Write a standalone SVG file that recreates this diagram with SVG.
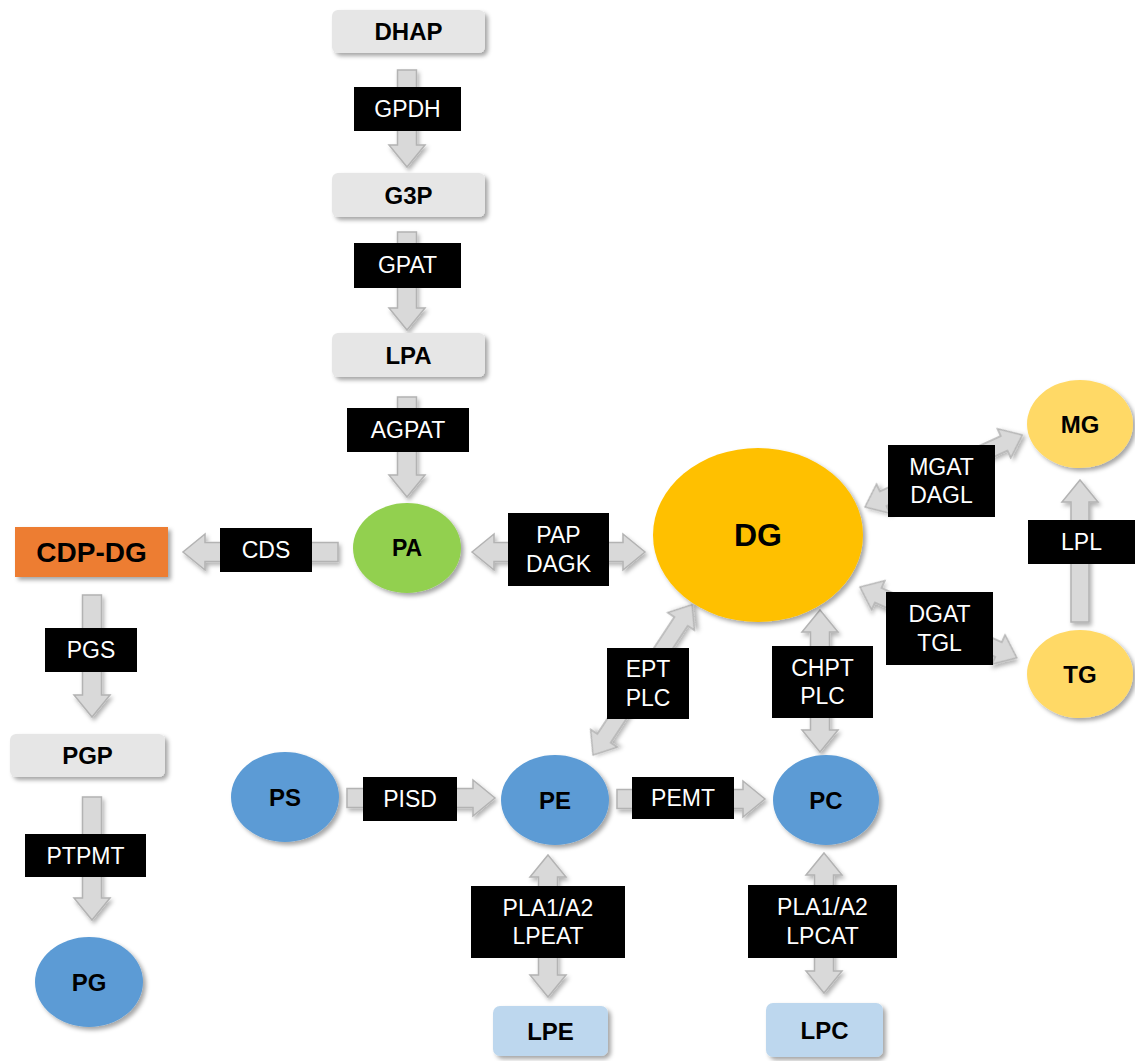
<svg xmlns="http://www.w3.org/2000/svg" width="1135" height="1061" viewBox="0 0 1135 1061">
<defs>
<filter id="sh" x="-20%" y="-20%" width="150%" height="150%">
<feDropShadow dx="3" dy="3" stdDeviation="2" flood-color="#000" flood-opacity="0.35"/>
</filter>
<filter id="ash" x="-20%" y="-20%" width="150%" height="150%">
<feDropShadow dx="2" dy="3" stdDeviation="2" flood-color="#000" flood-opacity="0.3"/>
</filter>
<style>
.nt{font-family:"Liberation Sans",Arial,sans-serif;font-weight:bold;font-size:24px;fill:#000;text-anchor:middle}
.lt{font-family:"Liberation Sans",Arial,sans-serif;font-size:23px;fill:#fff;text-anchor:middle}
.lb{fill:#000}
.ar{fill:#d9d9d9;stroke:#b3b3b3;stroke-width:1.5;filter:url(#ash)}
.gr{fill:#e6e6e6;filter:url(#sh)}
.lbl{fill:#bdd7ee;filter:url(#sh)}
.bl{fill:#5b9bd5;filter:url(#sh)}
.ye{fill:#ffd966;filter:url(#sh)}
</style>
</defs>
<rect width="1135" height="1061" fill="#fff"/>

<g id="connectors">
<polygon class="ar" points="397.5,70 416.5,70 416.5,145 425,145 407,167 389,145 397.5,145"/>
<polygon class="ar" points="397.5,232 416.5,232 416.5,308 425,308 407,330 389,308 397.5,308"/>
<polygon class="ar" points="397.5,397 416.5,397 416.5,475 425,475 407,497 389,475 397.5,475"/>
<polygon class="ar" points="338,542.5 338,561.5 205,561.5 205,570 183,552 205,534 205,542.5"/>
<polygon class="ar" points="472,552 494,534 494,542.5 623,542.5 623,534 645,552 623,570 623,561.5 494,561.5 494,570"/>
<polygon class="ar" points="82.5,595 101.5,595 101.5,695 110,695 92,717 74,695 82.5,695"/>
<polygon class="ar" points="82.5,797 101.5,797 101.5,898 110,898 92,920 74,898 82.5,898"/>
<polygon class="ar" points="347,788.5 473,788.5 473,780 495,798 473,816 473,807.5 347,807.5"/>
<polygon class="ar" points="617,789.5 743,789.5 743,781 765,799 743,817 743,808.5 617,808.5"/>
<polygon class="ar" points="1071,622 1071,502 1062,502 1080,480 1098,502 1089,502 1089,622"/>
<polygon class="ar" points="820,610 838,632 829.5,632 829.5,730 838,730 820,752 802,730 810.5,730 810.5,632 802,632"/>
<polygon class="ar" points="548,855 566,877 557.5,877 557.5,975 566,975 548,997 530,975 538.5,975 538.5,877 530,877"/>
<polygon class="ar" points="824,853 842,875 833.5,875 833.5,971 842,971 824,993 806,971 814.5,971 814.5,875 806,875"/>
<path class="ar" transform="translate(593,755) rotate(-56.6)" d="M0,0 L20,-16 L20,-8 L160,-8 L160,-16 L180,0 L160,16 L160,8 L20,8 L20,16 Z"/>
<path class="ar" transform="translate(865,507) rotate(-24.6)" d="M0,0 L20,-16 L20,-8 L153,-8 L153,-16 L173,0 L153,16 L153,8 L20,8 L20,16 Z"/>
<path class="ar" transform="translate(860,587) rotate(24.3)" d="M0,0 L20,-16 L20,-8 L152,-8 L152,-16 L172,0 L152,16 L152,8 L20,8 L20,16 Z"/>

<g id="labels">
<rect class="lb" x="354" y="87" width="107" height="44"/><text class="lt" x="407.5" y="117">GPDH</text>
<rect class="lb" x="354" y="243" width="107" height="45"/><text class="lt" x="407.5" y="273">GPAT</text>
<rect class="lb" x="347" y="408" width="122" height="44"/><text class="lt" x="408" y="438">AGPAT</text>
<rect class="lb" x="220" y="528" width="92" height="44"/><text class="lt" x="266" y="558">CDS</text>
<rect class="lb" x="508" y="513" width="101" height="73"/><text class="lt" x="558.5" y="543">PAP</text><text class="lt" x="558.5" y="572">DAGK</text>
<rect class="lb" x="45" y="628" width="92" height="44"/><text class="lt" x="91" y="658">PGS</text>
<rect class="lb" x="25" y="834" width="121" height="43"/><text class="lt" x="85.5" y="863.5">PTPMT</text>
<rect class="lb" x="363" y="777" width="94" height="44"/><text class="lt" x="410" y="807">PISD</text>
<rect class="lb" x="632" y="777" width="102" height="42"/><text class="lt" x="683" y="806">PEMT</text>
<rect class="lb" x="607" y="648" width="82" height="71"/><text class="lt" x="648" y="677">EPT</text><text class="lt" x="648" y="705.5">PLC</text>
<rect class="lb" x="772" y="646" width="101" height="72"/><text class="lt" x="822.5" y="675.5">CHPT</text><text class="lt" x="822.5" y="704">PLC</text>
<rect class="lb" x="888" y="445" width="107" height="72"/><text class="lt" x="941.5" y="474.5">MGAT</text><text class="lt" x="941.5" y="503">DAGL</text>
<rect class="lb" x="886" y="592" width="107" height="73"/><text class="lt" x="939.5" y="622">DGAT</text><text class="lt" x="939.5" y="650.5">TGL</text>
<rect class="lb" x="1028" y="520" width="107" height="44"/><text class="lt" x="1081.5" y="550">LPL</text>
<rect class="lb" x="471" y="886" width="154" height="72"/><text class="lt" x="548" y="915.5">PLA1/A2</text><text class="lt" x="548" y="944">LPEAT</text>
<rect class="lb" x="748" y="885" width="149" height="73"/><text class="lt" x="822.5" y="915">PLA1/A2</text><text class="lt" x="822.5" y="943.5">LPCAT</text>
</g>
</g>

<g id="DHAP"><rect class="gr" x="332" y="10" width="153" height="43" rx="6"/><text class="nt" x="408.5" y="40">DHAP</text></g>
<g id="G3P"><rect class="gr" x="332" y="173" width="153" height="44" rx="6"/><text class="nt" x="408.5" y="203.5">G3P</text></g>
<g id="LPA"><rect class="gr" x="332" y="333" width="153" height="44" rx="6"/><text class="nt" x="408.5" y="363.5">LPA</text></g>
<g id="CDP-DG"><rect x="15" y="527" width="153" height="50" fill="#ed7d31" filter="url(#sh)"/><text class="nt" x="91.5" y="562" style="font-size:28px">CDP-DG</text></g>
<g id="PGP"><rect class="gr" x="10" y="734" width="155" height="43" rx="6"/><text class="nt" x="87.5" y="764">PGP</text></g>
<g id="PA"><ellipse cx="407" cy="548" rx="54" ry="45" fill="#92d050" filter="url(#sh)"/><text class="nt" x="407" y="556" style="font-size:23px">PA</text></g>
<g id="DG"><ellipse cx="758" cy="535" rx="105" ry="87" fill="#ffc000" filter="url(#sh)"/><text class="nt" x="758" y="546" style="font-size:32px">DG</text></g>
<g id="MG"><ellipse class="ye" cx="1080" cy="424" rx="53" ry="44"/><text class="nt" x="1080" y="432.5">MG</text></g>
<g id="TG"><ellipse class="ye" cx="1080" cy="674" rx="53" ry="44"/><text class="nt" x="1080" y="682.5">TG</text></g>
<g id="PS"><ellipse class="bl" cx="285" cy="797" rx="54" ry="45"/><text class="nt" x="285" y="805.5">PS</text></g>
<g id="PE"><ellipse class="bl" cx="555" cy="800" rx="54" ry="45"/><text class="nt" x="555" y="808.5">PE</text></g>
<g id="PC"><ellipse class="bl" cx="826" cy="800" rx="53" ry="45"/><text class="nt" x="826" y="808.5">PC</text></g>
<g id="PG"><ellipse class="bl" cx="89" cy="982" rx="54" ry="45"/><text class="nt" x="89" y="990.5">PG</text></g>
<g id="LPE"><rect class="lbl" x="493" y="1006" width="115" height="50" rx="7"/><text class="nt" x="550.5" y="1040">LPE</text></g>
<g id="LPC"><rect class="lbl" x="766" y="1003" width="117" height="54" rx="7"/><text class="nt" x="824.5" y="1038.5">LPC</text></g>
</svg>
